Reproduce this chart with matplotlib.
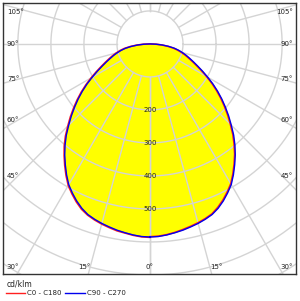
"""
配光曲线 (极坐标光强分布) 重绘：C0-C180 与 C90-C270 两个平面。
"""
import matplotlib
matplotlib.use("Agg")
import matplotlib.pyplot as plt
import numpy as np

# 角度 (相对于竖直向下, 度) 与光强 (cd/klm)
gamma = [0, 2.5, 5, 7.5, 10, 12.5, 15, 17.5, 20, 22.5, 25, 27.5, 30, 32.5, 35, 37.5,
         40, 42.5, 45, 47.5, 50, 52.5, 55, 57.5, 60, 62.5, 65, 67.5, 70, 72.5, 75,
         77.5, 80, 82.5, 85, 87.5, 90]
c90_c270 = [585, 584, 581, 577, 573, 568, 563, 557, 550, 539, 525, 509, 492, 470, 447, 424,
            400, 375, 348, 323, 298, 274, 250, 226, 202, 180, 160, 143, 128, 115, 102,
            89, 75, 57, 38, 19, 0]
c180 = [586, 585, 582, 578, 575, 570, 565, 559, 552, 542, 528, 512, 495, 473, 450, 427,
        404, 379, 352, 327, 302, 278, 254, 230, 206, 184, 164, 147, 132, 119, 106,
        93, 79, 60, 40, 20, 0]
c0 = [584, 583, 580, 576, 571, 566, 561, 555, 548, 536, 522, 506, 489, 467, 444, 421,
      396, 371, 344, 319, 294, 270, 246, 222, 198, 176, 156, 139, 124, 111, 98,
      85, 71, 54, 36, 18, 0]

ring_values = [100, 200, 300, 400, 500, 600, 700, 800, 900]
ring_labels = [200, 300, 400, 500]
spoke_angles = list(range(0, 181, 15))
# 侧边角度标签及其纵向位置 (数据坐标)
side_labels = ["45°", "60°", "75°", "90°", "105°"]
side_label_y = [-400, -230, -106, 0, 97]
bottom_labels = ["30°", "15°", "0°", "15°", "30°"]
bottom_label_x = [-415, -200, 0, 200, 415]

GRID = "#d4d4d4"
TXT = "#222222"


def to_xy(angles_deg, values, side):
    a = np.radians(np.asarray(angles_deg, dtype=float))
    r = np.asarray(values, dtype=float)
    return side * r * np.sin(a), -r * np.cos(a)


def closed_curve(left, right):
    x1, y1 = to_xy(gamma, left, -1)
    x2, y2 = to_xy(gamma[::-1], right[::-1], 1)
    return np.concatenate([x1, x2]), np.concatenate([y1, y2])


fig = plt.figure(figsize=(3.0, 3.01), dpi=100)
ax = fig.add_axes([3 / 300, 27 / 301, 293 / 300, 271 / 301])
ax.set_xlim(-445, 442)
ax.set_ylim(-697, 124)

# 填充区域 (黄色)
fx, fy = closed_curve(c90_c270, c90_c270)
ax.fill(fx, fy, color="#ffff00", zorder=1, lw=0)

# 网格：同心圆 + 放射线
t = np.linspace(0, 2 * np.pi, 361)
for rv in ring_values:
    ax.plot(rv * np.cos(t), rv * np.sin(t), color=GRID, lw=1.0, zorder=2)
for sa in spoke_angles:
    for side in (-1, 1):
        x, y = to_xy([sa, sa], [100, 1200], side)
        ax.plot(x, y, color=GRID, lw=1.0, zorder=2)

# 光强曲线
rx, ry = closed_curve(c180, c0)
ax.plot(rx, ry, color="#ff2020", lw=1.2, zorder=3)
bx, by = closed_curve(c90_c270, c90_c270)
ax.plot(bx, by, color="#0000ee", lw=1.0, zorder=4)

# 数值标签
for rv in ring_labels:
    ax.text(0, -rv, str(rv), fontsize=5, ha="center", va="center", zorder=5, color=TXT)

# 角度标签
for lab, xx in zip(bottom_labels, bottom_label_x):
    ax.text(xx, -676, lab, fontsize=5, ha="center", va="center", color=TXT)
for lab, yy in zip(side_labels, side_label_y):
    ax.text(-433, yy, lab, fontsize=5, ha="left", va="center", color=TXT)
    ax.text(433, yy, lab, fontsize=5, ha="right", va="center", color=TXT)

ax.set_xticks([])
ax.set_yticks([])
for s in ax.spines.values():
    s.set_color("#333333")
    s.set_linewidth(1.0)

# 图例
fig.text(7 / 300, 1 - 284 / 301, "cd/klm", fontsize=5.5, ha="left", va="center", color=TXT)
fig.add_artist(plt.Line2D([6 / 300, 25 / 300], [1 - 293 / 301] * 2, color="#ff2020", lw=1))
fig.text(27 / 300, 1 - 293 / 301, "C0 - C180", fontsize=5, ha="left", va="center", color=TXT)
fig.add_artist(plt.Line2D([65 / 300, 85 / 300], [1 - 293 / 301] * 2, color="#0000ee", lw=1))
fig.text(87 / 300, 1 - 293 / 301, "C90 - C270", fontsize=5, ha="left", va="center", color=TXT)

fig.savefig("out.png", dpi=100)
